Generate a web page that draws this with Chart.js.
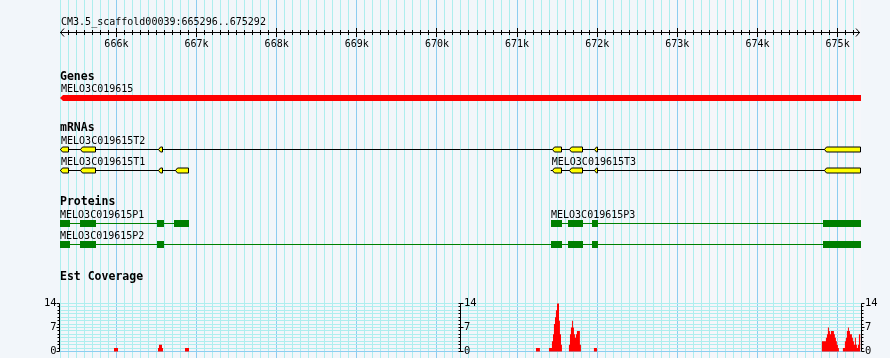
<!DOCTYPE html>
<html><head><meta charset="utf-8">
<script src="https://cdn.jsdelivr.net/npm/chart.js@4.4.1/dist/chart.umd.min.js"></script>
<style>html,body{margin:0;padding:0;background:#F2F6FA;overflow:hidden}canvas{display:block}</style>
</head><body><canvas id="c" width="890" height="358"></canvas>
<script>
// ---------- data ----------
const regionTitle = 'CM3.5_scaffold00039:665296..675292';
const regionStart = 665296;
const regionEnd = 675292;
const rulerTickValues = [666000, 667000, 668000, 669000, 670000, 671000, 672000, 673000, 674000, 675000];
const rulerTickLabels = ['666k', '667k', '668k', '669k', '670k', '671k', '672k', '673k', '674k', '675k'];

const trackTitles = ['Genes', 'mRNAs', 'Proteins', 'Est Coverage'];

const geneName = 'MELO3C019615';
const geneSpan = [665296, 675292];

const mrnaNames = ['MELO3C019615T2', 'MELO3C019615T1', 'MELO3C019615T3'];
const mrnaSpans = [[665296, 675292], [665296, 666906], [671420, 675292]];
const mrnaT2Exons = [[665296, 665408], [665546, 665745], [666519, 666581], [671435, 671556], [671647, 671822], [671959, 672009], [674829, 675292]];
const mrnaT1Exons = [[665296, 665408], [665546, 665745], [666519, 666581], [666727, 666906]];
const mrnaT3Exons = [[671435, 671556], [671647, 671822], [671959, 672009], [674829, 675292]];

const proteinNames = ['MELO3C019615P1', 'MELO3C019615P2', 'MELO3C019615P3'];
const proteinSpans = [[665296, 666906], [665296, 675292], [671423, 675292]];
const proteinP1Cds = [[665296, 665421], [665546, 665745], [666506, 666594], [666719, 666906]];
const proteinP2Cds = [[665296, 665421], [665546, 665745], [666506, 666594], [671423, 671560], [671635, 671822], [671934, 672009], [674817, 675292]];
const proteinP3Cds = [[671423, 671560], [671635, 671822], [671934, 672009], [674817, 675292]];

// EST coverage: each value holds from its position to the next position
const covPos = [
  665970, 666020,
  666519, 666531, 666569, 666581,
  666856, 666906,
  671236, 671285,
  671398, 671435, 671448, 671460, 671473, 671485, 671498, 671510, 671523, 671535, 671548, 671560,
  671647, 671660, 671672, 671685, 671697, 671710, 671722, 671734, 671747, 671759, 671772, 671784, 671797,
  671959, 671997,
  674804, 674854, 674867, 674879, 674892, 674904, 674916, 674929, 674941, 674954, 674966, 674979, 674991, 675004, 675016,
  675066, 675091, 675104, 675116, 675129, 675141, 675154, 675166, 675179, 675191, 675204, 675216, 675228, 675241, 675253, 675266, 675285
];
const covVal = [
  1, 0,
  1, 2, 1, 0,
  1, 0,
  1, 0,
  1, 3, 5, 8, 10, 12, 14, 14, 9, 5, 2, 0,
  2, 5, 7, 9, 7, 5, 4, 5, 6, 6, 6, 2, 0,
  1, 0,
  3, 4, 5, 7, 6, 5, 6, 6, 6, 5, 4, 3, 2, 1, 0,
  1, 3, 4, 6, 7, 6, 5, 5, 4, 3, 2, 4, 2, 1, 2, 5, 0
];
const covTicks = [0, 7, 14];
const covMax = 14;
const covAxisAt = [665296, 670296, 675292];

// ---------- styling / layout ----------
const BG = '#F2F6FA';
const GRID_MINOR = '#AEEEEE';
const GRID_MAJOR = '#8DCDF0';
const FONT = '11px "DejaVu Sans Mono", "Liberation Mono", monospace';
const FONT_SX = 0.91;
const FONT_BOLD = 'bold 11.5px "DejaVu Sans Mono", "Liberation Mono", monospace';
const FONT_AXIS = '11px "DejaVu Sans Mono", "Liberation Mono", monospace';

const covPoints = [{x: regionStart, y: 0}].concat(covPos.map((p, i) => ({x: p, y: covVal[i]})));

function px(v) { return Math.round(v) + 0.5; }

function txt(ctx, s, x, y, align, font, sx) {
  ctx.save();
  ctx.font = font || FONT;
  ctx.textAlign = align || 'left';
  ctx.translate(x, y);
  ctx.scale(sx === undefined ? FONT_SX : sx, 1);
  ctx.fillText(s, 0, 0);
  ctx.restore();
}

const bgPlugin = {
  id: 'gbBackground',
  beforeDraw(chart) {
    const ctx = chart.ctx, xs = chart.scales.x, yc = chart.scales.yCov;
    const W = chart.width, H = chart.height;
    ctx.save();
    ctx.fillStyle = BG;
    ctx.fillRect(0, 0, W, H);
    // light shading on the right part
    const sx = xs.getPixelForValue(672720), ex = xs.getPixelForValue(regionEnd);
    ctx.fillStyle = 'rgba(246,246,249,0.85)';
    ctx.fillRect(sx, 0, ex - sx, H);
    // vertical grid
    ctx.lineWidth = 1;
    for (let bp = Math.ceil(regionStart / 100) * 100; bp <= regionEnd; bp += 100) {
      const x = px(xs.getPixelForValue(bp) - 0.5);
      ctx.strokeStyle = (bp % 1000 === 0) ? GRID_MAJOR : GRID_MINOR;
      ctx.beginPath(); ctx.moveTo(x, 0); ctx.lineTo(x, H); ctx.stroke();
    }
    // coverage horizontal grid
    const x0 = xs.getPixelForValue(regionStart), x1 = xs.getPixelForValue(regionEnd);
    for (let v = covMax; v >= 0; v--) {
      const y = px(yc.getPixelForValue(v) - 0.5);
      ctx.strokeStyle = v === 0 ? GRID_MAJOR : GRID_MINOR;
      ctx.beginPath(); ctx.moveTo(x0, y); ctx.lineTo(x1, y); ctx.stroke();
    }
    ctx.restore();
  }
};

const fgPlugin = {
  id: 'gbForeground',
  afterDatasetsDraw(chart) {
    const ctx = chart.ctx, xs = chart.scales.x, yp = chart.scales.yPix, yc = chart.scales.yCov;
    const X = v => xs.getPixelForValue(v);
    const Y = v => yp.getPixelForValue(v);
    ctx.save();
    ctx.textBaseline = 'alphabetic';
    ctx.fillStyle = '#000';

    // ---- ruler ----
    txt(ctx, regionTitle, X(regionStart) + 1, Y(25), 'left');
    const ry = Y(32) + 0.5;
    const rx0 = X(regionStart), rx1 = X(regionEnd) - 1;
    ctx.strokeStyle = '#000'; ctx.lineWidth = 1;
    ctx.beginPath(); ctx.moveTo(rx0, ry); ctx.lineTo(rx1, ry); ctx.stroke();
    ctx.beginPath();
    ctx.moveTo(rx0 + 4, ry - 4); ctx.lineTo(rx0 + 0.5, ry); ctx.lineTo(rx0 + 4, ry + 4);
    ctx.moveTo(rx1 - 4, ry - 4); ctx.lineTo(rx1 - 0.5, ry); ctx.lineTo(rx1 - 4, ry + 4);
    ctx.stroke();
    for (let bp = Math.ceil((regionStart + 60) / 100) * 100; bp <= regionEnd - 60; bp += 100) {
      const x = px(X(bp) - 0.5);
      const major = bp % 1000 === 0;
      ctx.beginPath();
      ctx.moveTo(x, ry - (major ? 4.5 : 2.5));
      ctx.lineTo(x, ry + (major ? 4.5 : 2.5));
      ctx.stroke();
    }
    rulerTickValues.forEach((v, i) => txt(ctx, rulerTickLabels[i], X(v), Y(47), 'center'));

    // ---- track titles ----
    txt(ctx, trackTitles[0], X(regionStart), Y(80), 'left', FONT_BOLD, 1);
    txt(ctx, trackTitles[1], X(regionStart), Y(131), 'left', FONT_BOLD, 1);
    txt(ctx, trackTitles[2], X(regionStart), Y(205), 'left', FONT_BOLD, 1);
    txt(ctx, trackTitles[3], X(regionStart), Y(280), 'left', FONT_BOLD, 1);

    // ---- gene ----
    txt(ctx, geneName, X(geneSpan[0]) + 1, Y(92), 'left');
    {
      const a = X(geneSpan[0]), b = X(geneSpan[1]);
      const t = Y(95), h = 6;
      ctx.fillStyle = '#FF0000';
      ctx.beginPath();
      ctx.moveTo(a, t + h / 2); ctx.lineTo(a + 3, t); ctx.lineTo(b, t); ctx.lineTo(b, t + h); ctx.lineTo(a + 3, t + h);
      ctx.closePath(); ctx.fill();
    }

    // ---- mRNAs ----
    const mrnaRows = [
      {name: mrnaNames[0], span: mrnaSpans[0], exons: mrnaT2Exons, label: 144, mid: 149},
      {name: mrnaNames[1], span: mrnaSpans[1], exons: mrnaT1Exons, label: 165, mid: 170},
      {name: mrnaNames[2], span: mrnaSpans[2], exons: mrnaT3Exons, label: 165, mid: 170}
    ];
    mrnaRows.forEach(r => {
      ctx.fillStyle = '#000';
      txt(ctx, r.name, X(r.span[0]) + 1, Y(r.label), 'left');
      const ly = Y(r.mid) + 0.5;
      ctx.strokeStyle = '#000'; ctx.lineWidth = 1;
      ctx.beginPath(); ctx.moveTo(X(r.span[0]), ly); ctx.lineTo(X(r.span[1]), ly); ctx.stroke();
      r.exons.forEach(e => {
        const a = Math.round(X(e[0])) + 0.5, b = Math.round(X(e[1])) - 0.5;
        const t = ly - 2.5, bt = ly + 2.5;
        ctx.beginPath();
        ctx.moveTo(a, ly); ctx.lineTo(a + 2, t); ctx.lineTo(b, t); ctx.lineTo(b, bt); ctx.lineTo(a + 2, bt);
        ctx.closePath();
        ctx.fillStyle = '#FFFF00'; ctx.fill();
        ctx.strokeStyle = '#000'; ctx.stroke();
      });
    });

    // ---- proteins ----
    const protRows = [
      {name: proteinNames[0], span: proteinSpans[0], cds: proteinP1Cds, label: 218, mid: 223},
      {name: proteinNames[1], span: proteinSpans[1], cds: proteinP2Cds, label: 239, mid: 244},
      {name: proteinNames[2], span: proteinSpans[2], cds: proteinP3Cds, label: 218, mid: 223}
    ];
    protRows.forEach(r => {
      ctx.fillStyle = '#000';
      txt(ctx, r.name, X(r.span[0]), Y(r.label), 'left');
      const ly = Y(r.mid) + 0.5;
      ctx.strokeStyle = '#008000'; ctx.lineWidth = 1;
      ctx.beginPath(); ctx.moveTo(X(r.span[0]), ly); ctx.lineTo(X(r.span[1]), ly); ctx.stroke();
      ctx.fillStyle = '#008000';
      r.cds.forEach(c => {
        const a = Math.round(X(c[0])), b = Math.round(X(c[1]));
        ctx.fillRect(a, Y(r.mid) - 3, b - a, 7);
      });
    });

    // ---- coverage axes ----
    ctx.strokeStyle = '#000'; ctx.fillStyle = '#000';
    ctx.textBaseline = 'middle';
    const yTop = yc.getPixelForValue(covMax), yBot = yc.getPixelForValue(0);
    covAxisAt.forEach((bp, k) => {
      let ax = Math.round(X(bp)) - 0.5;
      if (k === 2) ax = Math.round(X(bp)) + 0.5;
      ctx.beginPath(); ctx.moveTo(ax, px(yTop - 0.5)); ctx.lineTo(ax, px(yBot - 0.5)); ctx.stroke();
      for (let v = 0; v <= covMax; v++) {
        const y = px(yc.getPixelForValue(v) - 0.5);
        const major = covTicks.includes(v);
        ctx.beginPath();
        if (k === 0) { ctx.moveTo(ax - (major ? 3 : 2), y); ctx.lineTo(ax, y); }
        else if (k === 1) { ctx.moveTo(ax - 2, y); ctx.lineTo(ax + (major ? 3 : 0), y); }
        else { ctx.moveTo(ax, y); ctx.lineTo(ax + (major ? 3 : 2), y); }
        ctx.stroke();
      }
      covTicks.forEach(v => {
        const y = yc.getPixelForValue(v);
        if (k === 0) txt(ctx, String(v), ax - 3, y, 'right', FONT_AXIS, 0.95);
        else txt(ctx, String(v), ax + 3.5, y, 'left', FONT_AXIS, 0.95);
      });
    });
    ctx.restore();
  }
};

const chart = new Chart(document.getElementById('c'), {
  type: 'line',
  data: {
    datasets: [{
      label: 'Est Coverage',
      data: covPoints,
      xAxisID: 'x',
      yAxisID: 'yCov',
      stepped: true,
      fill: 'origin',
      backgroundColor: '#FF0000',
      borderColor: 'rgba(0,0,0,0)',
      borderWidth: 1,
      pointRadius: 0,
      tension: 0
    }]
  },
  options: {
    responsive: false,
    animation: false,
    devicePixelRatio: 1,
    events: [],
    layout: {padding: {left: 60, right: 29, top: 0, bottom: 0}},
    plugins: {legend: {display: false}, tooltip: {enabled: false}, title: {display: false}},
    scales: {
      x: {type: 'linear', min: regionStart, max: regionEnd, display: false},
      yCov: {type: 'linear', min: -1.896, max: 102.52, display: false},
      yPix: {type: 'linear', min: 0, max: 358, reverse: true, display: false}
    }
  },
  plugins: [bgPlugin, fgPlugin]
});
</script></body></html>
